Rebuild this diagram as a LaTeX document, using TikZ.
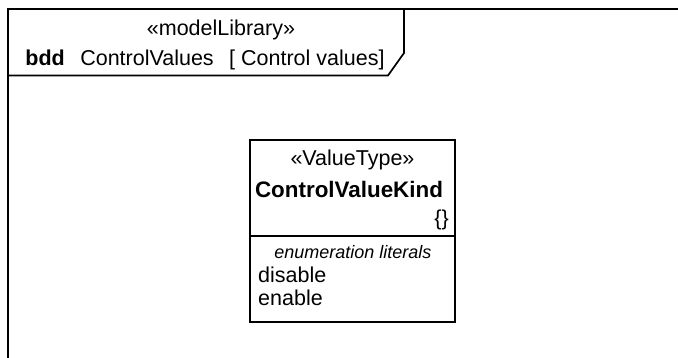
\documentclass[tikz,border=0pt]{standalone}
\usepackage{fontspec}
\setmainfont{Liberation Sans}
\begin{document}
\begin{tikzpicture}[x=1pt,y=-1pt,
  lbl/.style={inner sep=0pt, font=\fontsize{21.5}{25}\selectfont},
  boldlbl/.style={inner sep=0pt, font=\fontsize{22.4}{26}\selectfont\bfseries},
  ital/.style={inner sep=0pt, font=\fontsize{18}{21}\selectfont\itshape},
  frameline/.style={line width=1.7pt, line cap=rect, line join=miter},
  boxline/.style={line width=1.5pt}]
\useasboundingbox (0,0) rectangle (678,357);
% frame
\draw[frameline] (8,380) -- (8,9) -- (700,9);
\draw[frameline] (404,9) -- (404,53) -- (388,75.5) -- (8,75.5);
\node[lbl] (stereo) at (221,30) {«modelLibrary»};
\node[lbl] (title) at (205,60) {\textbf{bdd}\hspace{0.72em}ControlValues\hspace{0.72em}[ Control values]};
% block
\draw[boxline] (250,140) rectangle (455,322);
\coordinate (dl) at (250,236);
\coordinate (dr) at (455,236);
\draw[boxline] (dl) -- (dr);
\node[lbl] (vt) at (352.5,160) {«ValueType»};
\node[boldlbl] (name) at (349,189) {ControlValueKind};
\node[lbl, anchor=east] (br) at (449,220) {\{\}};
\node[ital] (el) at (353,252.5) {enumeration literals};
\node[lbl, anchor=west] (d1) at (258,275) {disable};
\node[lbl, anchor=west] (d2) at (258,298) {enable};
\end{tikzpicture}
\end{document}
